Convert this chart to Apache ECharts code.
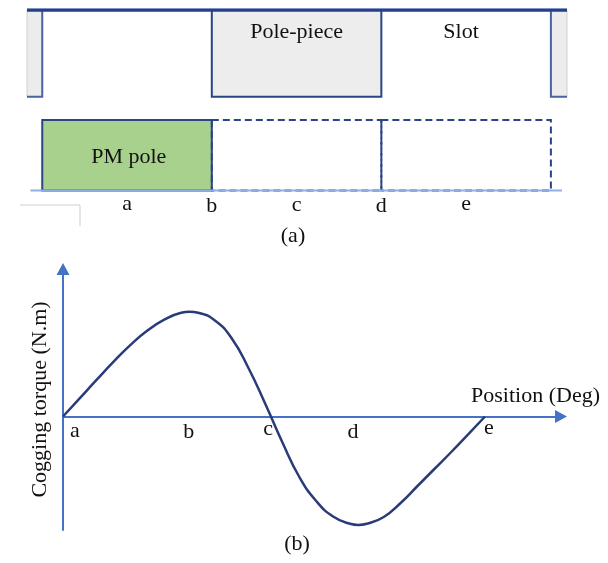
<!DOCTYPE html>
<html>
<head>
<meta charset="utf-8">
<script src="https://cdn.jsdelivr.net/npm/echarts@6/dist/echarts.min.js"></script>
<style>
html,body{margin:0;padding:0;background:#fff;}
#c{width:608px;height:563px;}
</style>
</head>
<body>
<div id="c"></div>
<script>
// ---------- DATA ----------
// (a) schematic, x in "magnet pitch" units (one PM pole = 100), y in relative height units
const positions = ['a', 'b', 'c', 'd', 'e'];
const topLabelX = [50, 100, 150, 200, 250];
const topLabelY = [-0.19, -0.22, -0.2, -0.22, -0.19];
const magnetEdges = [0, 100, 200, 300];
const polePieceSpan = [100, 200];
const toothSpans = [[-9, 0], [300, 309.5]];
const statorSpan = [-9, 309.5];
const baseSpan = [-7, 306.5];
const statorLevel = 2.56;
const toothLevel = 1.33;
const magnetLevel = 1.0;
const partNames = ['Pole-piece', 'Slot', 'PM pole'];
const partX = [150, 247, 51];
const partY = [2.25, 2.25, 0.48];

// (b) cogging torque curve
const torqueX = [0, 4, 8, 12, 16, 20, 24, 28, 30, 32, 36, 40, 44, 48, 52, 56, 60, 64, 68, 70, 72, 76, 80, 84, 88, 92, 96, 100];
const torqueY = [0, 0.184, 0.368, 0.548, 0.716, 0.86, 0.968, 1.038, 1.048, 1.038, 0.96, 0.78, 0.48, 0.12, -0.26, -0.605, -0.845, -1.0, -1.073, -1.085, -1.073, -1.005, -0.865, -0.695, -0.525, -0.355, -0.178, 0];
const bottomLabelX = [2.8, 29.8, 48.6, 68.7, 100.9];
const bottomLabelY = [-0.15, -0.16, -0.13, -0.16, -0.12];
const xAxisName = 'Position (Deg)';
const yAxisName = 'Cogging torque (N.m)';
const captions = ['(a)', '(b)'];

// ---------- CHART ----------
const FONT = '"Liberation Serif", "Times New Roman", serif';
const TXT = '#111111';
const DARK = '#2a4585';
const chart = echarts.init(document.getElementById('c'), null, {renderer: 'canvas'});

// rect items: [x0, x1, y0, y1, kind]
const rectData = [];
rectData.push([toothSpans[0][0], toothSpans[0][1], toothLevel, statorLevel, 0]);
rectData.push([toothSpans[1][0], toothSpans[1][1], toothLevel, statorLevel, 1]);
rectData.push([polePieceSpan[0], polePieceSpan[1], toothLevel, statorLevel, 2]);
rectData.push([magnetEdges[0], magnetEdges[1], 0, magnetLevel, 3]);
for (let i = 1; i < magnetEdges.length - 1; i++) {
  rectData.push([magnetEdges[i], magnetEdges[i + 1], 0, magnetLevel, 4]);
}

function renderRect(params, api) {
  const x0 = api.value(0), x1 = api.value(1), y0 = api.value(2), y1 = api.value(3), kind = api.value(4);
  const p0 = api.coord([x0, y1]);
  const p1 = api.coord([x1, y0]);
  const x = p0[0], y = p0[1], w = p1[0] - p0[0], h = p1[1] - p0[1];
  if (kind === 0 || kind === 1) {
    const edge = kind === 0
      ? [[x + w, y], [x + w, y + h], [x, y + h]]
      : [[x, y], [x, y + h], [x + w, y + h]];
    return {type: 'group', children: [
      {type: 'rect', shape: {x: x, y: y, width: w, height: h, r: 0}, style: {fill: '#ececec', stroke: '#cfcfcf', lineWidth: 1}},
      {type: 'polyline', shape: {points: edge}, style: {fill: null, stroke: '#4d62a0', lineWidth: 2}}
    ]};
  }
  if (kind === 2) {
    return {type: 'rect', shape: {x: x, y: y, width: w, height: h}, style: {fill: '#ededed', stroke: DARK, lineWidth: 2}};
  }
  if (kind === 3) {
    return {type: 'rect', shape: {x: x, y: y, width: w, height: h}, style: {fill: '#a9d18e', stroke: DARK, lineWidth: 2}};
  }
  return {type: 'rect', shape: {x: x, y: y, width: w, height: h}, style: {fill: null, stroke: DARK, lineWidth: 2, lineDash: [7, 4]}};
}

const labelStyle = {show: true, position: 'inside', formatter: '{b}', fontFamily: FONT, fontSize: 22, color: TXT, opacity: 1};
const hiddenItem = {color: '#000', opacity: 1};

const option = {
  animation: false,
  backgroundColor: '#fff',
  title: [
    {text: captions[0], left: 293, top: 225, textAlign: 'center', padding: 0, textStyle: {fontFamily: FONT, fontSize: 22, fontWeight: 'normal', color: TXT}},
    {text: captions[1], left: 297, top: 533, textAlign: 'center', padding: 0, textStyle: {fontFamily: FONT, fontSize: 22, fontWeight: 'normal', color: TXT}}
  ],
  graphic: [
    {type: 'polyline', shape: {points: [[20, 205], [80, 205], [80, 226]]}, style: {stroke: '#cfcfcf', lineWidth: 1, fill: null}, silent: true}
  ],
  grid: [
    {left: 27, width: 540, top: 10, height: 230},
    {left: 63, width: 498, top: 269, height: 261}
  ],
  xAxis: [
    {gridIndex: 0, type: 'value', min: -9, max: 309.5, show: false},
    {gridIndex: 1, type: 'value', min: 0, max: 118,
      axisLine: {show: true, onZero: true, symbol: ['none', 'triangle'], symbolSize: [13, 12], lineStyle: {color: '#4472c4', width: 2}},
      axisTick: {show: false}, axisLabel: {show: false}, splitLine: {show: false},
      name: xAxisName, nameLocation: 'end', nameGap: 39,
      nameTextStyle: {fontFamily: FONT, fontSize: 22, color: TXT, align: 'right', verticalAlign: 'bottom', padding: [0, 0, 9, 0]}}
  ],
  yAxis: [
    {gridIndex: 0, type: 'value', min: -0.7, max: (190.5 - 10) / 70.5, show: false},
    {gridIndex: 1, type: 'value', min: -1.135, max: 1.475,
      axisLine: {show: true, onZero: false, symbol: ['none', 'triangle'], symbolSize: [13, 12], lineStyle: {color: '#4472c4', width: 2}},
      axisTick: {show: false}, axisLabel: {show: false}, splitLine: {show: false},
      name: yAxisName, nameLocation: 'middle', nameGap: 12,
      nameTextStyle: {fontFamily: FONT, fontSize: 22, color: TXT}}
  ],
  series: [
    {type: 'line', xAxisIndex: 0, yAxisIndex: 0, silent: true, symbol: 'none',
      data: [[baseSpan[0], 0], [baseSpan[1], 0]], lineStyle: {color: '#8fb0e3', width: 2}},
    {type: 'custom', xAxisIndex: 0, yAxisIndex: 0, silent: true, renderItem: renderRect, data: rectData, clip: false},
    {type: 'line', xAxisIndex: 0, yAxisIndex: 0, silent: true, symbol: 'none',
      data: [[statorSpan[0], statorLevel], [statorSpan[1], statorLevel]], lineStyle: {color: '#243f8e', width: 3.5}},
    {type: 'scatter', xAxisIndex: 0, yAxisIndex: 0, silent: true, symbolSize: 0, itemStyle: hiddenItem,
      label: labelStyle,
      data: partNames.map((n, i) => ({name: n, value: [partX[i], partY[i]]}))},
    {type: 'scatter', xAxisIndex: 0, yAxisIndex: 0, silent: true, symbolSize: 0, itemStyle: hiddenItem,
      label: labelStyle,
      data: positions.map((n, i) => ({name: n, value: [topLabelX[i], topLabelY[i]]}))},
    {type: 'line', xAxisIndex: 1, yAxisIndex: 1, silent: true, symbol: 'none', smooth: 0.5,
      data: torqueX.map((x, i) => [x, torqueY[i]]), lineStyle: {color: '#2a3c78', width: 2.5}},
    {type: 'scatter', xAxisIndex: 1, yAxisIndex: 1, silent: true, symbolSize: 0, itemStyle: hiddenItem,
      label: labelStyle,
      data: positions.map((n, i) => ({name: n, value: [bottomLabelX[i], bottomLabelY[i]]}))}
  ]
};
chart.setOption(option);
</script>
</body>
</html>
